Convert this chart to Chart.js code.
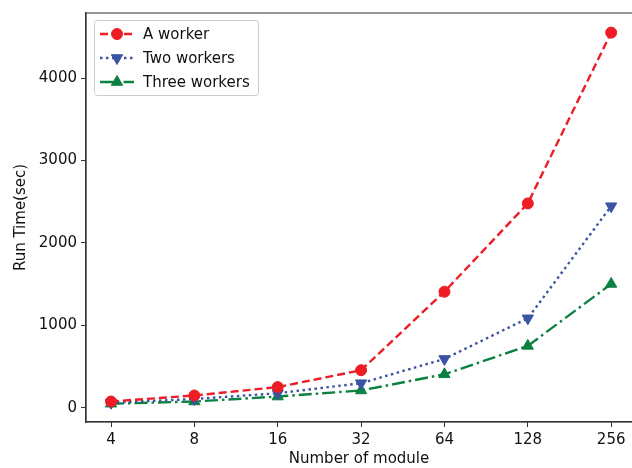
<!DOCTYPE html>
<html>
<head>
<meta charset="utf-8">
<script src="https://cdn.jsdelivr.net/npm/chart.js@4.4.1/dist/chart.umd.min.js"></script>
<style>
  html, body { margin: 0; padding: 0; background: #fff; overflow: hidden; }
  #wrap { width: 632px; height: 468px; }
</style>
</head>
<body>
<div id="wrap"><canvas id="chart"></canvas></div>
<script>
// data
const moduleLabels = ['4', '8', '16', '32', '64', '128', '256'];
const oneWorker = [75, 148, 250, 455, 1408, 2480, 4554];
const twoWorkers = [60, 105, 175, 297, 592, 1085, 2446];
const threeWorkers = [48, 75, 135, 209, 405, 750, 1502];
const yTicks = [0, 1000, 2000, 3000, 4000];

const FONT = 'DejaVu Sans';
const toPoints = (arr) => arr.map((v, i) => ({ x: i, y: v }));

const series = [
  { label: 'A worker', data: oneWorker, color: '#ee1c25', dash: [8, 4], style: 'circle', rot: 0, r: 5.5 },
  { label: 'Two workers', data: twoWorkers, color: '#3a53a4', dash: [2.5, 3.5], style: 'triangle', rot: 180, r: 6.5 },
  { label: 'Three workers', data: threeWorkers, color: '#0b8140', dash: [13, 4, 2.5, 4], style: 'triangle', rot: 0, r: 6.5 },
];

// frame around the plot area; the right side is cut off in the reference
const frame = {
  id: 'frame',
  afterDatasetsDraw(chart) {
    const { ctx, chartArea: a } = chart;
    ctx.save();
    ctx.strokeStyle = '#333';
    ctx.lineWidth = 1.2;
    ctx.beginPath();
    ctx.moveTo(a.left, a.bottom);
    ctx.lineTo(a.left, a.top);
    ctx.lineTo(chart.width, a.top);
    ctx.moveTo(a.left, a.bottom);
    ctx.lineTo(chart.width, a.bottom);
    ctx.stroke();
    ctx.restore();
  },
};

// matplotlib-like legend: line sample + marker
const legendBox = {
  id: 'legendBox',
  afterDraw(chart) {
    const { ctx, chartArea: a } = chart;
    const x0 = a.left + 8, y0 = a.top + 7, w = 164, h = 75, rowH = 24;
    ctx.save();
    ctx.fillStyle = 'rgba(255,255,255,0.8)';
    ctx.strokeStyle = '#cccccc';
    ctx.lineWidth = 1;
    ctx.beginPath();
    ctx.roundRect(x0 + 0.5, y0 + 0.5, w, h, 3);
    ctx.fill();
    ctx.stroke();
    series.forEach((s, i) => {
      const cy = y0 + 14 + i * rowH;
      ctx.strokeStyle = s.color;
      ctx.lineWidth = 2.4;
      ctx.setLineDash(s.dash);
      ctx.beginPath();
      ctx.moveTo(x0 + 6, cy);
      ctx.lineTo(x0 + 40, cy);
      ctx.stroke();
      ctx.setLineDash([]);
      ctx.fillStyle = s.color;
      ctx.lineWidth = 1;
      Chart.helpers.drawPoint(ctx, {
        pointStyle: s.style, radius: s.r, rotation: s.rot, borderWidth: 1,
      }, x0 + 23, cy);
      ctx.fillStyle = '#111';
      ctx.font = '15px ' + FONT;
      ctx.textBaseline = 'middle';
      ctx.fillText(s.label, x0 + 49, cy + 1);
    });
    ctx.restore();
  },
};

new Chart(document.getElementById('chart'), {
  type: 'line',
  data: {
    datasets: series.map((s) => ({
      label: s.label,
      data: toPoints(s.data),
      borderColor: s.color,
      backgroundColor: s.color,
      borderWidth: 2.4,
      borderDash: s.dash,
      pointStyle: s.style,
      pointRotation: s.rot,
      pointRadius: s.r,
      pointBorderWidth: 1,
      tension: 0,
      clip: false,
    })),
  },
  options: {
    responsive: true,
    maintainAspectRatio: false,
    animation: false,
    layout: { autoPadding: false, padding: { top: 11, right: 0, left: 0, bottom: 0 } },
    plugins: { legend: { display: false }, tooltip: { enabled: false } },
    scales: {
      x: {
        type: 'linear',
        min: -0.3,
        max: 6.25,
        afterBuildTicks: (scale) => { scale.ticks = moduleLabels.map((_, i) => ({ value: i })); },
        afterFit: (scale) => { scale.height = 46; scale.paddingRight = 0; scale.paddingLeft = 0; },
        ticks: {
          callback: (v) => moduleLabels[v],
          color: '#111',
          font: { family: FONT, size: 15 },
          padding: 4,
          maxRotation: 0,
        },
        grid: { drawOnChartArea: false, tickLength: 5, color: '#333' },
        border: { color: '#333', width: 1.2 },
        title: {
          display: true,
          text: 'Number of module',
          color: '#111',
          font: { family: FONT, size: 15 },
          padding: { top: 2, bottom: 0 },
        },
      },
      y: {
        min: -174,
        max: 4792,
        afterBuildTicks: (scale) => { scale.ticks = yTicks.map((v) => ({ value: v })); },
        afterFit: (scale) => { scale.width = 86; },
        ticks: {
          callback: (v) => String(v),
          color: '#111',
          font: { family: FONT, size: 15 },
          padding: 4,
        },
        grid: { drawOnChartArea: false, tickLength: 5, color: '#333' },
        border: { color: '#333', width: 1.2 },
        title: {
          display: true,
          text: 'Run Time(sec)',
          color: '#111',
          font: { family: FONT, size: 15 },
          padding: { top: 12, bottom: 0 },
        },
      },
    },
  },
  plugins: [frame, legendBox],
});
</script>
</body>
</html>
